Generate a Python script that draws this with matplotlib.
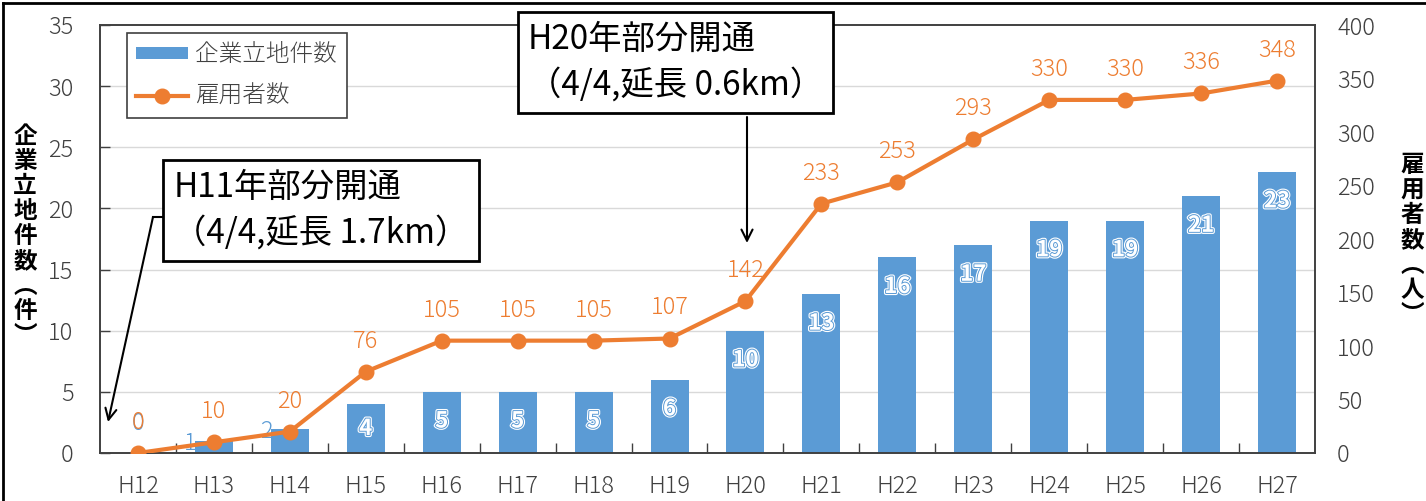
import matplotlib
matplotlib.use("Agg")
import matplotlib.pyplot as plt
import matplotlib.patheffects as pe
from matplotlib.lines import Line2D
from matplotlib.patches import Patch

plt.rcParams['font.family'] = ['Noto Sans CJK JP', 'DejaVu Sans']
plt.rcParams['font.weight'] = 'light'

categories = ["H12", "H13", "H14", "H15", "H16", "H17", "H18", "H19",
              "H20", "H21", "H22", "H23", "H24", "H25", "H26", "H27"]
companies = [0, 1, 2, 4, 5, 5, 5, 6, 10, 13, 16, 17, 19, 19, 21, 23]
employees = [0, 10, 20, 76, 105, 105, 105, 107, 142, 233, 253, 293, 330, 330, 336, 348]
left_ticks = [0, 5, 10, 15, 20, 25, 30, 35]
right_ticks = [0, 50, 100, 150, 200, 250, 300, 350, 400]

BLUE = '#5B9BD5'
ORANGE = '#ED7D31'
TXT = '#404040'
FS = 17

W, H = 1426, 501
fig = plt.figure(figsize=(W / 100, H / 100), dpi=100)
ax = fig.add_axes([100 / W, 1 - 453 / H, 1215 / W, 428 / H])
ax2 = ax.twinx()

x = list(range(len(categories)))
ax.bar(x, companies, width=0.5, color=BLUE, zorder=2, label='企業立地件数')
ax.set_xlim(-0.5, len(categories) - 0.5)
ax.set_ylim(0, 35)
ax.set_yticks(left_ticks)
ax.set_xticks(x)
ax.set_xticklabels(categories)
ax.set_xticks([i + 0.5 for i in x[:-1]], minor=True)
ax.tick_params(axis='x', which='major', length=0, pad=15, labelsize=FS, colors=TXT)
ax.tick_params(axis='x', which='minor', direction='in', length=7, width=1, color=TXT)
ax.tick_params(axis='y', direction='in', length=7, width=1, pad=19, labelsize=FS,
               colors=TXT)
for t in left_ticks[1:-1]:
    ax.axhline(t, color='#D9D9D9', lw=1, zorder=0)

ax2.plot(x, employees, color=ORANGE, lw=3, marker='o', markersize=10.5, zorder=3,
         label='雇用者数')
ax2.set_ylim(0, 400)
ax2.set_yticks(right_ticks)
ax2.tick_params(axis='y', length=0, pad=16, labelsize=FS, colors=TXT)

for a in (ax, ax2):
    for s in a.spines.values():
        s.set_color('#404040')
        s.set_linewidth(1.2)

effects = [pe.Stroke(linewidth=3, foreground='white'),
           pe.Stroke(linewidth=1.4, foreground=BLUE),
           pe.Normal()]

# bar labels
for i, v in enumerate(companies):
    if v >= 5:
        ax.annotate(str(v), (i, v), xytext=(0, -21), textcoords='offset points',
                    ha='center', va='center', fontsize=16, fontweight='bold',
                    color='white', zorder=4, path_effects=effects)
    elif v >= 3:
        ax.text(i, v / 2, str(v), ha='center', va='center', fontsize=16,
                fontweight='bold', color='white', zorder=4, path_effects=effects)
    elif v > 0:
        ax.annotate(str(v), (i, v), xytext=(-17, -2), textcoords='offset points',
                    ha='center', va='center', fontsize=FS, color=BLUE, zorder=4)
    else:
        ax.annotate(str(v), (i, v), xytext=(0, 21), textcoords='offset points',
                    ha='center', va='center', fontsize=FS, color=BLUE, zorder=4)

# line labels
for i, v in enumerate(employees):
    ax2.annotate(str(v), (i, v), xytext=(0, 22), textcoords='offset points',
                 ha='center', va='center', fontsize=FS, color=ORANGE, zorder=5)

# legend
handles = [Patch(facecolor=BLUE, edgecolor='none'),
           Line2D([], [], color=ORANGE, lw=3, marker='o', markersize=10.5)]
leg = ax2.legend(handles, ['企業立地件数', '雇用者数'], loc='upper left',
                 bbox_to_anchor=(27 / 1215, 1 - 8 / 428), fontsize=17,
                 frameon=True, fancybox=False, framealpha=1, edgecolor='#404040',
                 handlelength=2.2, handleheight=0.45, labelspacing=0.7,
                 borderpad=0.4, handletextpad=0.3, labelcolor=TXT,
                 borderaxespad=0)
leg.get_frame().set_linewidth(1.2)
leg.set_zorder(10)

# axis titles (vertical)
fig.text(25 / W, 1 - 236 / H, '\n'.join('企業立地件数︵件︶'), ha='center', va='center',
         fontsize=17, fontweight='bold', color='black', linespacing=1.05)
fig.text(1412 / W, 1 - 240 / H, '\n'.join('雇用者数︵人︶'), ha='center', va='center',
         fontsize=17, fontweight='bold', color='black', linespacing=1.05)

def px(xp, yp):
    return ((xp - 100) / 1215, (453 - yp) / 428)

box = dict(boxstyle='square,pad=0.3', facecolor='white', edgecolor='black', lw=2)

# H11 annotation
ax2.text(*px(321, 210.5), 'H11年部分開通\n（4/4,延長 1.7km）', transform=ax2.transAxes,
         ha='center', va='center', multialignment='left', fontsize=24,
         fontweight='normal', linespacing=1.38, bbox=box, zorder=8, clip_on=False)
ax2.add_line(Line2D([px(153, 217)[0], px(170, 217)[0]], [px(153, 217)[1]] * 2,
                    transform=ax2.transAxes, color='black', lw=1.5, zorder=7))
ax2.annotate('', xy=px(108, 422), xytext=px(153, 217), xycoords='axes fraction',
             textcoords='axes fraction',
             arrowprops=dict(arrowstyle='->,head_length=0.8,head_width=0.4',
                             color='black', lw=1.5, shrinkA=0, shrinkB=0), zorder=7)

# H20 annotation
ax2.text(*px(675.5, 62.5), 'H20年部分開通\n（4/4,延長 0.6km）', transform=ax2.transAxes,
         ha='center', va='center', multialignment='left', fontsize=24,
         fontweight='normal', linespacing=1.38, bbox=box, zorder=8, clip_on=False)
ax2.annotate('', xy=px(747, 243), xytext=px(747, 117), xycoords='axes fraction',
             textcoords='axes fraction',
             arrowprops=dict(arrowstyle='->,head_length=0.8,head_width=0.4',
                             color='black', lw=1.5, shrinkA=0, shrinkB=0), zorder=7)

# outer frame
fig.add_artist(Line2D([3 / W, 3 / W], [0, 1 - 3 / H], transform=fig.transFigure,
                      color='black', lw=2))
fig.add_artist(Line2D([3 / W, 1], [1 - 3 / H, 1 - 3 / H], transform=fig.transFigure,
                      color='black', lw=2))

fig.savefig('out.png', dpi=100)
